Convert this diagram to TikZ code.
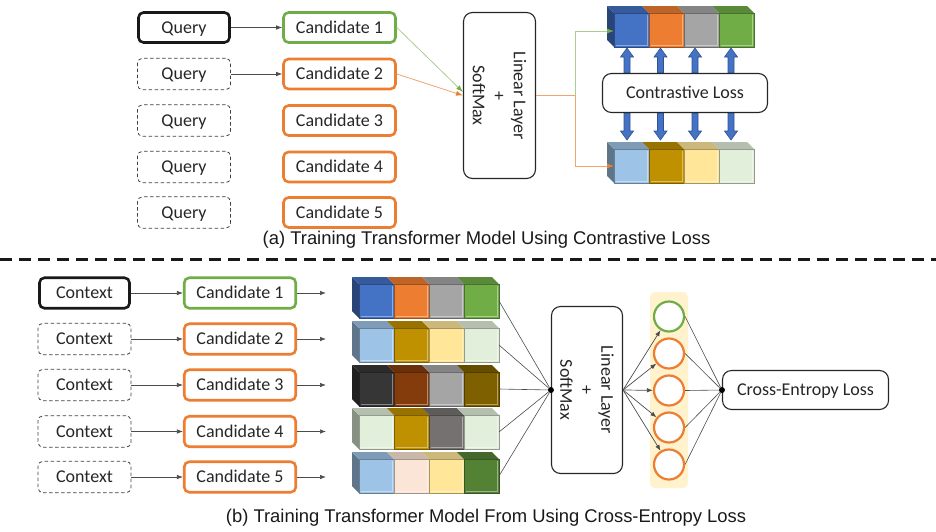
\documentclass[tikz,border=0pt]{standalone}
\usepackage{fontspec}
\setmainfont{Carlito}
\newfontfamily\capfont{Liberation Sans}
\usetikzlibrary{arrows.meta}

\definecolor{cBlue}{HTML}{4472C4}
\definecolor{cBlueD}{HTML}{2F528F}
\definecolor{cOrange}{HTML}{ED7D31}
\definecolor{cGray}{HTML}{A5A5A5}
\definecolor{cGreen}{HTML}{70AD47}
\definecolor{cLBlue}{HTML}{9DC3E6}
\definecolor{cGold}{HTML}{BF9000}
\definecolor{cLYellow}{HTML}{FFE699}
\definecolor{cLGreen}{HTML}{E2EFDA}
\definecolor{cDark}{HTML}{363636}
\definecolor{cBrown}{HTML}{843C0C}
\definecolor{cOlive}{HTML}{7F6000}
\definecolor{cMGray}{HTML}{767171}
\definecolor{cPeach}{HTML}{FBE5D6}
\definecolor{cDGreen}{HTML}{548235}
\definecolor{cYellowBg}{HTML}{FFF2CC}

% a row of four bevelled blocks: #1 left x, #2 top y, #3 colours
\newcommand\blockrow[3]{%
  \foreach \bcol [count=\bi from 0] in {#3}{%
    \pgfmathsetmacro\xa{#1+35*\bi}%
    \ifnum\bi=0
      \fill[\bcol!60!black] (\xa,#2) -- (\xa+7,#2+7) -- (\xa+7,#2+41) -- (\xa,#2+34) -- cycle;
    \fi
    \fill[\bcol!80!black] (\xa,#2) -- (\xa+35,#2) -- (\xa+42,#2+7) -- (\xa+7,#2+7) -- cycle;
    \fill[\bcol] (\xa+7,#2+7) rectangle (\xa+42,#2+41);
    \draw[\bcol!60!white, line width=1pt] (\xa+9,#2+39) -- (\xa+40,#2+39) -- (\xa+40,#2+9);
    \draw[\bcol!65!black, line width=0.6pt] (\xa+7,#2+7) rectangle (\xa+42,#2+41);
  }%
}
% block arrows between the loss box and the rows
\newcommand\uparr[3]{% x, tip y, base y
  \filldraw[fill=cBlue, draw=cBlueD, line width=0.6pt]
    (#1-3,#3) -- (#1-3,#2+9) -- (#1-6.5,#2+9) -- (#1,#2) -- (#1+6.5,#2+9) -- (#1+3,#2+9) -- (#1+3,#3) -- cycle;}
\newcommand\downarr[3]{% x, base y, tip y
  \filldraw[fill=cBlue, draw=cBlueD, line width=0.6pt]
    (#1-3,#2) -- (#1-3,#3-9) -- (#1-6.5,#3-9) -- (#1,#3) -- (#1+6.5,#3-9) -- (#1+3,#3-9) -- (#1+3,#2) -- cycle;}

\begin{document}
\begin{tikzpicture}[x=1pt,y=-1pt,
  lbl/.style={font=\fontsize{18}{21}\selectfont, text=black!85, inner sep=0pt, text height=14pt, text depth=2.5pt},
  qsolid/.style={lbl, draw=black!90, line width=2.6pt, rounded corners=5pt, minimum width=91pt, minimum height=30pt},
  qdash/.style={lbl, draw=black!75, line width=0.8pt, dash pattern=on 3.5pt off 2.5pt, rounded corners=5pt, minimum width=93pt, minimum height=31.5pt},
  candg/.style={lbl, draw=cGreen, line width=2.6pt, rounded corners=5pt, minimum width=112pt, minimum height=30pt},
  cando/.style={lbl, draw=cOrange, line width=2.6pt, rounded corners=5pt, minimum width=112pt, minimum height=30pt},
  plainbox/.style={lbl, draw=black!85, line width=1.1pt, rounded corners=9pt, fill=white},
  rottext/.style={font=\fontsize{18}{20.5}\selectfont, text=black!85, align=center, rotate=-90, inner sep=0pt},
  conn/.style={draw=black!70, line width=0.7pt, -{Latex[length=6pt,width=4.5pt]}},
  thin/.style={draw=black!70, line width=0.6pt},
  glink/.style={draw=cGreen!60!white, line width=0.8pt, -{Latex[length=7pt,width=5pt,color=cGreen]}},
  olink/.style={draw=cOrange!70!white, line width=0.8pt, -{Latex[length=7pt,width=5pt,color=cOrange]}},
  oline/.style={draw=cOrange!70!white, line width=0.8pt},
  circ/.style={circle, draw, line width=2.2pt, fill=white, minimum size=30pt, inner sep=0pt},
  dotn/.style={circle, fill=black, minimum size=6pt, inner sep=0pt},
  capt/.style={font=\capfont\fontsize{18.4}{21}\selectfont, text=black!90, inner sep=0pt}
]
\useasboundingbox (0,0) rectangle (936,531);

% ---------- (a) contrastive loss ----------
\node[qsolid] (q1) at (184,27.5) {Query};
\node[qdash]  (q2) at (184,74) {Query};
\node[qdash]  (q3) at (184,120.5) {Query};
\node[qdash]  (q4) at (184,167) {Query};
\node[qdash]  (q5) at (184,212.5) {Query};

\node[candg] (a1) at (339.5,27.5) {Candidate 1};
\node[cando] (a2) at (339.5,74) {Candidate 2};
\node[cando] (a3) at (339.5,120.5) {Candidate 3};
\node[cando] (a4) at (339.5,167) {Candidate 4};
\node[cando] (a5) at (339.5,212.5) {Candidate 5};

\draw[conn] (q1) -- (a1);
\draw[conn] (q2) -- (a2);

\node[plainbox, minimum width=72pt, minimum height=166pt] (lin1) at (499.5,95.5) {};
\node[rottext] (lin1t) at (lin1) {Linear Layer\\+\\SoftMax};

\draw[glink] (a1.east) -- ([yshift=3.5pt]lin1.west);
\draw[olink] (a2.east) -- (lin1.west);

\blockrow{607}{6}{cBlue,cOrange,cGray,cGreen}
\blockrow{607}{142}{cLBlue,cGold,cLYellow,cLGreen}

\coordinate (split) at (575,95.5);
\coordinate (rowA) at (614,31);
\coordinate (rowB) at (614,166);
\draw[oline] (lin1.east) -- (split);
\draw[glink] (split) |- (rowA);
\draw[olink] (split) |- (rowB);

\foreach \ax in {627,660.5,695,731}{
  \uparr{\ax}{48}{73}
  \downarr{\ax}{113}{140}
}
\node[plainbox, minimum width=165pt, minimum height=39pt] (cl) at (685,93) {Contrastive Loss};

\node[capt] (capA) at (486.5,240) {(a) Training Transformer Model Using Contrastive Loss};

% separator
\draw[line width=3pt, black!90, dash pattern=on 12pt off 7pt] (0,259) -- (936,259);

% ---------- (b) cross-entropy loss ----------
\node[qsolid, minimum width=90pt, minimum height=30.5pt] (c1) at (84.5,293) {Context};
\node[qdash] (c2) at (84.5,339) {Context};
\node[qdash] (c3) at (84.5,385) {Context};
\node[qdash] (c4) at (84.5,431.5) {Context};
\node[qdash] (c5) at (84.5,477) {Context};

\node[candg, minimum width=111.5pt, minimum height=30.5pt] (b1) at (240,293) {Candidate 1};
\node[cando, minimum width=111.5pt, minimum height=30.5pt] (b2) at (240,339) {Candidate 2};
\node[cando, minimum width=111.5pt, minimum height=30.5pt] (b3) at (240,385) {Candidate 3};
\node[cando, minimum width=111.5pt, minimum height=30.5pt] (b4) at (240,431.5) {Candidate 4};
\node[cando, minimum width=111.5pt, minimum height=30.5pt] (b5) at (240,477) {Candidate 5};

\foreach \i/\y in {1/293,2/339,3/385,4/431.5,5/477}{
  \coordinate (e\i) at (326,\y);
  \draw[conn] (c\i) -- (b\i);
  \draw[conn] (b\i.east) -- (e\i);
}

\blockrow{352}{277}{cBlue,cOrange,cGray,cGreen}
\blockrow{352}{321}{cLBlue,cGold,cLYellow,cLGreen}
\blockrow{352}{365}{cDark,cBrown,cGray,cOlive}
\blockrow{352}{408}{cLGreen,cGold,cMGray,cLGreen}
\blockrow{352}{452}{cLBlue,cPeach,cLYellow,cDGreen}

\node[plainbox, minimum width=71pt, minimum height=167pt] (lin2) at (587,390) {};
\node[rottext] (lin2t) at (lin2) {Linear Layer\\+\\SoftMax};
\node[dotn] (d1) at (lin2.west) {};

\foreach \i/\y in {1/277,2/321,3/365,4/408,5/452}{
  \coordinate (r\i) at (499,\y+24);
  \draw[thin] (r\i) -- (d1);
}

\fill[cYellowBg, rounded corners=5pt] (650,292) rectangle (688,488);
\node[circ, draw=cGreen]  (o1) at (669,316.5) {};
\node[circ, draw=cOrange] (o2) at (669,353.5) {};
\node[circ, draw=cOrange] (o3) at (669,390.5) {};
\node[circ, draw=cOrange] (o4) at (669,427.5) {};
\node[circ, draw=cOrange] (o5) at (669,464.5) {};

\node[plainbox, minimum width=166pt, minimum height=39pt] (ce) at (805.5,390) {Cross-Entropy Loss};
\node[dotn] (d2) at (ce.west) {};

\foreach \i in {1,...,5}{
  \draw[conn] (lin2.east) -- (o\i);
  \draw[thin] (o\i.east) -- (d2);
}

\node[capt] (capB) at (486,518) {(b) Training Transformer Model From Using Cross-Entropy Loss};
\end{tikzpicture}
\end{document}
